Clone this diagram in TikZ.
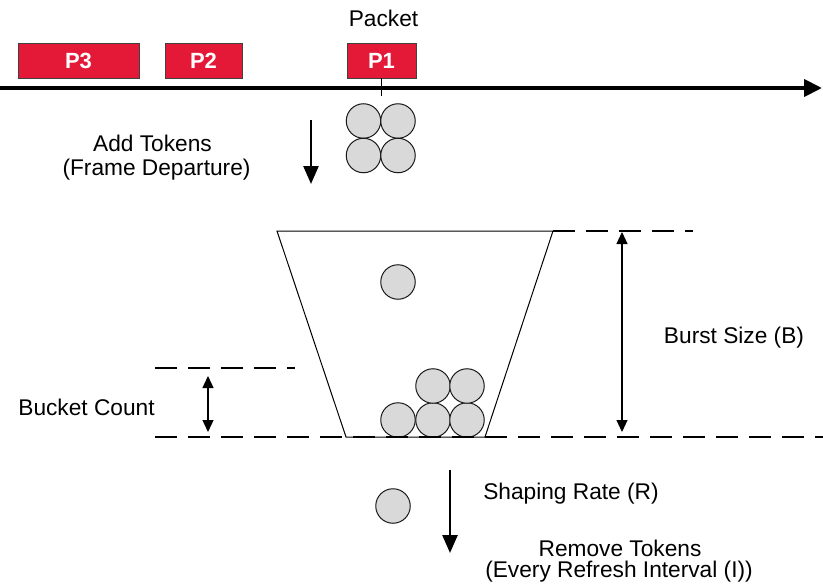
\documentclass[tikz,border=0pt]{standalone}
\usepackage{fontspec}
\setmainfont{Liberation Sans}
\usetikzlibrary{arrows.meta}
\definecolor{pktred}{RGB}{227,25,55}
\definecolor{tokgray}{RGB}{217,217,217}
\begin{document}
\begin{tikzpicture}[x=1pt,y=-1pt,
  lbl/.style={font=\fontsize{22.7}{27}\selectfont, inner sep=0pt, anchor=center},
  pkt/.style={draw=black!75, fill=pktred, line width=0.8pt, minimum height=35pt, text=white,
    font=\bfseries\fontsize{22}{26}\selectfont, inner sep=0pt},
  token/.style={circle, draw=black!90, fill=tokgray, line width=1pt, minimum size=34.5pt, inner sep=0pt},
  dashline/.style={line width=2pt, dash pattern=on 22pt off 11pt},
  bigarrow/.style={line width=2.5pt, -{Triangle[length=18pt,width=15pt]}},
  dimarrow/.style={line width=1.3pt, {Triangle[length=12pt,width=11pt]}-{Triangle[length=12pt,width=11pt]}}
]
\useasboundingbox (0,0) rectangle (823,586);

% packets
\node[pkt, minimum width=121pt] (p3) at (78.5,60.5) {P3};
\node[pkt, minimum width=77pt] (p2) at (203.5,60.5) {P2};
\node[pkt, minimum width=69pt] (p1) at (381.5,60.5) {P1};
\node[lbl] (packet) at (383.5,18) {Packet};

% timeline
\coordinate (tl0) at (0,88);
\coordinate (tl1) at (822,88);
\draw[line width=4pt, -{Triangle[length=18pt,width=17pt]}] (tl0) -- (tl1);
\coordinate (tick) at (381.5,96);
\draw[line width=0.8pt] (p1.south) -- (tick);

% tokens added
\node[token] (t1) at (363.5,121) {};
\node[token] (t2) at (398,121) {};
\node[token] (t3) at (363.5,155.5) {};
\node[token] (t4) at (398,155.5) {};

\coordinate (add0) at (311,120);
\coordinate (add1) at (311,184);
\draw[bigarrow] (add0) -- (add1);
\node[lbl] (addtxt) at (152.5,143) {Add Tokens};
\node[lbl] (frametxt) at (156.5,170) {(Frame Departure)};

% bucket
\coordinate (bTL) at (277,231);
\coordinate (bTR) at (553,231);
\coordinate (bBR) at (485,437);
\coordinate (bBL) at (346,437);
\draw[line width=1pt] (bTL) -- (bTR) -- (bBR) -- (bBL) -- cycle;

\node[token] (b0) at (398,282) {};
\node[token] (b1) at (398,420) {};
\node[token] (b2) at (433,420) {};
\node[token] (b3) at (467,420) {};
\node[token] (b4) at (433,386) {};
\node[token] (b5) at (467,386) {};

% dashed levels
\coordinate (dT1) at (693,231);
\coordinate (dC0) at (155,368);
\coordinate (dC1) at (295,368);
\coordinate (dB0) at (155,437);
\coordinate (dB1) at (823,437);
\draw[dashline] (bTR) -- (dT1);
\draw[dashline] (dC0) -- (dC1);
\draw[dashline] (dB0) -- (dB1);

% bucket count
\coordinate (bc0) at (208,376);
\coordinate (bc1) at (208,432);
\draw[dimarrow] (bc0) -- (bc1);
\node[lbl] (bctxt) at (86.5,407) {Bucket Count};

% burst size
\coordinate (bs0) at (622,232);
\coordinate (bs1) at (622,432);
\draw[dimarrow] (bs0) -- (bs1);
\node[lbl] (bstxt) at (734,338) {Burst Size (B)};

% removal
\node[token] (out) at (393,506) {};
\coordinate (rm0) at (450,470);
\coordinate (rm1) at (450,553);
\draw[bigarrow] (rm0) -- (rm1);
\node[lbl] (srtxt) at (571,494) {Shaping Rate (R)};
\node[lbl] (rmtxt) at (620,548) {Remove Tokens};
\node[lbl] (ritxt) at (619,572) {(Every Refresh Interval (I))};
\end{tikzpicture}
\end{document}
